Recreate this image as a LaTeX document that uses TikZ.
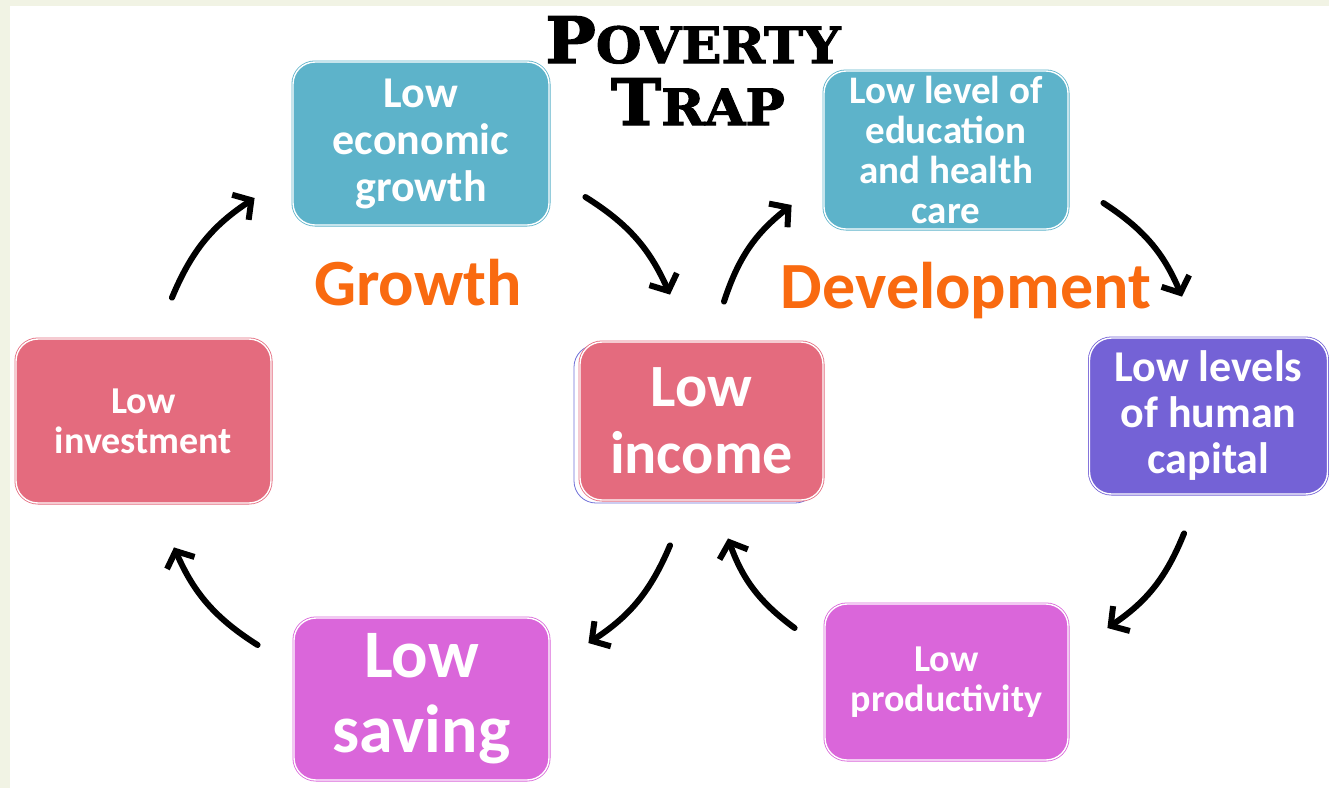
\documentclass[tikz,border=0pt]{standalone}
\usepackage{fontspec}
\setmainfont{Carlito}
\newfontfamily\titlefont[FakeBold=2,FakeStretch=1.05]{DejaVuSerif-Bold.ttf}
\usetikzlibrary{arrows.meta,shadows}
\definecolor{cream}{HTML}{F1F3E4}
\definecolor{tealbox}{HTML}{5DB3CA}
\definecolor{pinkbox}{HTML}{E46B7E}
\definecolor{purplebox}{HTML}{7462D6}
\definecolor{magentabox}{HTML}{DA66DA}
\definecolor{shadowblue}{HTML}{7070D8}
\definecolor{orangetxt}{HTML}{F96A10}
\begin{document}
\begin{tikzpicture}[x=1pt,y=-1pt]
\useasboundingbox (0,0) rectangle (1329,788);
\fill[cream] (0,0) rectangle (1329,788);
\fill[white] (10,6) rectangle (1329,788);

% title
\node[anchor=base,font=\titlefont] (poverty) at (693,63)
  {{\fontsize{64}{64}\selectfont P}{\fontsize{50}{50}\selectfont OVERTY}};
\node[anchor=base,font=\titlefont] (trap) at (698,125)
  {{\fontsize{64}{64}\selectfont T}{\fontsize{50}{50}\selectfont RAP}};

% the two loops
\node[anchor=base,text=orangetxt,font=\bfseries\fontsize{66}{66}\selectfont] (growthlbl) at (418,305) {Growth};
\node[anchor=base,text=orangetxt,font=\bfseries\fontsize{66}{66}\selectfont] (devlbl) at (966,308) {Development};

		\begin{scope}[every node/.style={rounded corners=22pt,draw,line width=0.8pt,double=white,double distance=1.4pt,text=white,align=center,inner sep=0pt}]
			\node[fill=tealbox,draw=tealbox,minimum width=256pt,minimum height=163pt,font=\bfseries\fontsize{44}{47}\selectfont] (growth) at (421,143.5) {Low\\economic\\growth};
			\node[fill=tealbox,draw=tealbox,minimum width=244pt,minimum height=158pt,font=\bfseries\fontsize{39}{40}\selectfont] (edu) at (946,150) {Low level of\\education\\and health\\care};
			\node[fill=pinkbox,draw=pinkbox,minimum width=255pt,minimum height=164pt,font=\bfseries\fontsize{38}{40}\selectfont] (inv) at (143.5,421) {Low\\investment};
			\node[fill=pinkbox,draw=pinkbox,minimum width=243pt,minimum height=158pt,font=\bfseries\fontsize{60}{67}\selectfont,
				copy shadow={shadow xshift=-6pt,shadow yshift=-3pt,draw=shadowblue,fill=white}] (income) at (701.5,421) {Low\\income};
			\node[fill=purplebox,draw=purplebox,minimum width=238pt,minimum height=156pt,font=\bfseries\fontsize{44}{46}\selectfont] (capital) at (1208.5,416) {Low levels\\of human\\capital};
			\node[fill=magentabox,draw=magentabox,minimum width=255pt,minimum height=162pt,font=\bfseries\fontsize{68}{75}\selectfont] (saving) at (421.5,699) {Low\\saving};
			\node[fill=magentabox,draw=magentabox,minimum width=243pt,minimum height=156pt,font=\bfseries\fontsize{38}{40}\selectfont] (prod) at (946.5,682) {Low\\productivity};
		\end{scope}

\begin{scope}[
	every edge/.style={draw=black,line width=6pt,line cap=round}]
\path [-{Straight Barb[length=13pt,width=30pt]}] ([shift={(28.5,-41)}]inv.north) edge [bend left=17] ([shift={(-38,54.5)}]growth.west);
\path [-{Straight Barb[length=13pt,width=30pt]}] ([shift={(36,53.5)}]growth.east) edge [bend left=17] ([shift={(-31.5,-47)}]income.north);
\path [-{Straight Barb[length=13pt,width=30pt]}] ([shift={(-31.5,45)}]income.south) edge [bend left=17] ([shift={(39,-56)}]saving.east);
\path [-{Straight Barb[length=13pt,width=30pt]}] ([shift={(-36,-54)}]saving.west) edge [bend left=17] ([shift={(30.5,44)}]inv.south);
\path [-{Straight Barb[length=13pt,width=30pt]}] ([shift={(22.5,-40)}]income.north) edge [bend left=17] ([shift={(-32,55)}]edu.west);
\path [-{Straight Barb[length=13pt,width=30pt]}] ([shift={(35,53)}]edu.east) edge [bend left=17] ([shift={(-26.5,-41)}]capital.north);
\path [-{Straight Barb[length=13pt,width=30pt]}] ([shift={(-24.5,39)}]capital.south) edge [bend left=17] ([shift={(39,-54)}]prod.east);
\path [-{Straight Barb[length=13pt,width=30pt]}] ([shift={(-30,-54)}]prod.west) edge [bend left=17] ([shift={(26.5,38)}]income.south);
\end{scope}
	\end{tikzpicture}
\end{document}
